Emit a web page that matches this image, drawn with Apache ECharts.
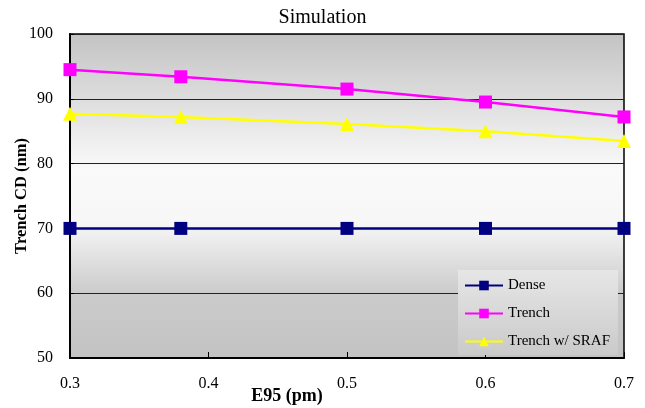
<!DOCTYPE html>
<html>
<head>
<meta charset="utf-8">
<script src="https://cdn.jsdelivr.net/npm/echarts@6/dist/echarts.min.js"></script>
<style>
  html, body { margin: 0; padding: 0; background: #fff; }
  #chart { width: 645px; height: 408px; }
</style>
</head>
<body>
<div id="chart"></div>
<script>
// E95 exposure values along the x axis
const e95 = [0.3, 0.38, 0.5, 0.6, 0.7];
// Trench CD (nm) per series
const dense = [70, 70, 70, 70, 70];
const trench = [94.5, 93.4, 91.5, 89.5, 87.2];
const trenchSraf = [87.7, 87.2, 86.1, 85.0, 83.5];
const xTicks = [0.3, 0.4, 0.5, 0.6, 0.7];
const yTicks = [50, 60, 70, 80, 90, 100];

const font = '"Liberation Serif", "Times New Roman", serif';
const pairs = (xs, ys) => xs.map((x, i) => [x, ys[i]]);

const plotFill = new echarts.graphic.LinearGradient(0, 0, 0, 1, [
  { offset: 0, color: '#c3c3c3' },
  { offset: 0.2, color: '#dddddd' },
  { offset: 0.42, color: '#fafafa' },
  { offset: 0.58, color: '#f7f7f7' },
  { offset: 0.8, color: '#cbcbcb' },
  { offset: 1, color: '#c3c3c3' }
]);

const chart = echarts.init(document.getElementById('chart'), null, { renderer: 'canvas' });
chart.setOption({
  animation: false,
  backgroundColor: '#ffffff',
  title: {
    text: 'Simulation',
    left: 'center',
    top: 3,
    textStyle: { fontFamily: font, fontSize: 20, fontWeight: 'normal', color: '#000' }
  },
  grid: {
    left: 70, right: 21, top: 34, bottom: 50,
    outerBoundsMode: 'none',
    containLabel: false,
    show: true,
    backgroundColor: plotFill,
    borderColor: '#000',
    borderWidth: 1.5
  },
  legend: {
    orient: 'vertical',
    left: 458,
    top: 270,
    itemWidth: 38,
    itemHeight: 12,
    itemGap: 13,
    padding: [8, 8, 6, 6],
    backgroundColor: new echarts.graphic.LinearGradient(0, 0, 0, 1, [
      { offset: 0, color: '#e6e6e6' },
      { offset: 1, color: '#cacaca' }
    ]),
    textStyle: { fontFamily: font, fontSize: 15, color: '#000' },
    data: ['Dense', 'Trench', 'Trench w/ SRAF']
  },
  xAxis: {
    type: 'value',
    min: 0.3, max: 0.7, interval: 0.1,
    name: 'E95 (pm)',
    nameLocation: 'middle',
    nameMoveOverlap: false,
    nameGap: 29,
    nameTextStyle: { fontFamily: font, fontSize: 18, fontWeight: 'bold', color: '#000', padding: [0, 120, 0, 0] },
    axisLine: { show: true, lineStyle: { color: '#000', width: 2 } },
    axisTick: { show: true, inside: true, length: 6, lineStyle: { color: '#000' } },
    axisLabel: {
      margin: 18,
      fontFamily: font, fontSize: 16, color: '#000',
      formatter: v => xTicks.includes(Math.round(v * 10) / 10) ? v.toFixed(1) : ''
    },
    splitLine: { show: false }
  },
  yAxis: {
    type: 'value',
    min: 50, max: 100, interval: 10,
    name: 'Trench CD (nm)',
    nameLocation: 'middle',
    nameMoveOverlap: false,
    nameGap: 40,
    nameTextStyle: { fontFamily: font, fontSize: 16.5, fontWeight: 'bold', color: '#000' },
    axisLine: { show: true, lineStyle: { color: '#000', width: 2 } },
    axisTick: { show: true, inside: true, length: 4, lineStyle: { color: '#000' } },
    axisLabel: {
      margin: 17,
      fontFamily: font, fontSize: 16, color: '#000',
      formatter: v => yTicks.includes(v) ? String(v) : ''
    },
    splitLine: { show: true, lineStyle: { color: '#222', width: 1.2 } }
  },
  series: [
    {
      name: 'Dense', type: 'line',
      data: pairs(e95, dense),
      symbol: 'rect', symbolSize: 13,
      itemStyle: { color: '#000080' },
      lineStyle: { color: '#000080', width: 2.5 },
      z: 3
    },
    {
      name: 'Trench', type: 'line',
      data: pairs(e95, trench),
      symbol: 'rect', symbolSize: 13,
      itemStyle: { color: '#ff00ff' },
      lineStyle: { color: '#ff00ff', width: 2.5 },
      z: 3
    },
    {
      name: 'Trench w/ SRAF', type: 'line',
      data: pairs(e95, trenchSraf),
      symbol: 'triangle', symbolSize: 14,
      itemStyle: { color: '#ffff00' },
      lineStyle: { color: '#ffff00', width: 2.5 },
      z: 3
    }
  ]
});
</script>
</body>
</html>
